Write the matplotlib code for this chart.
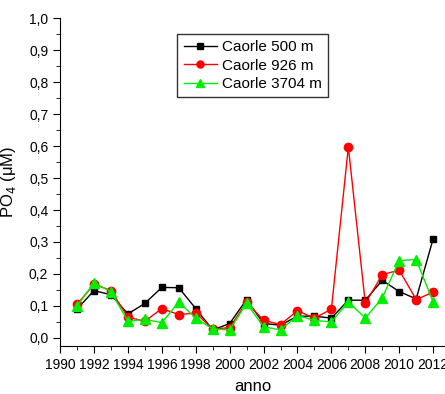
import numpy as np
import matplotlib
matplotlib.use('Agg')
import matplotlib.pyplot as plt
from matplotlib.ticker import MultipleLocator, FuncFormatter

plt.rcParams['font.family'] = ['Liberation Sans', 'DejaVu Sans']

anni = list(range(1991, 2013))
caorle_500 = [0.090, 0.148, 0.135, 0.075, 0.108, 0.158, 0.157, 0.092, 0.025, 0.045, 0.120,
              0.045, 0.040, 0.068, 0.068, 0.062, 0.118, 0.118, 0.180, 0.145, 0.122, 0.310]
caorle_926 = [0.105, 0.168, 0.148, 0.065, 0.052, 0.092, 0.073, 0.078, 0.028, 0.032, 0.112,
              0.055, 0.042, 0.085, 0.062, 0.090, 0.597, 0.108, 0.198, 0.212, 0.120, 0.143]
caorle_3704 = [0.100, 0.172, 0.145, 0.052, 0.058, 0.048, 0.112, 0.062, 0.028, 0.025, 0.108,
               0.035, 0.025, 0.070, 0.055, 0.050, 0.113, 0.062, 0.125, 0.242, 0.245, 0.113]

fig = plt.figure(figsize=(4.45, 3.94), dpi=100)
ax = fig.add_axes([0.135, 0.122, 0.865, 0.832])

ax.plot(anni, caorle_500, color='black', marker='s', ms=5, lw=1, label='Caorle 500 m')
ax.plot(anni, caorle_926, color='red', marker='o', ms=6, lw=1, label='Caorle 926 m')
ax.plot(anni, caorle_3704, color='#00ee00', marker='^', ms=7, lw=1, label='Caorle 3704 m')

ax.set_xlim(1990, 2012.7)
ax.set_ylim(-0.025, 1.0)
ax.xaxis.set_major_locator(MultipleLocator(2))
ax.xaxis.set_minor_locator(MultipleLocator(1))
ax.yaxis.set_major_locator(MultipleLocator(0.1))
ax.yaxis.set_minor_locator(MultipleLocator(0.05))
ax.yaxis.set_major_formatter(FuncFormatter(lambda v, p: ('%.1f' % v).replace('.', ',')))
ax.tick_params(which='major', direction='out', length=5, labelsize=10)
ax.tick_params(which='minor', direction='out', length=3)
for s in ['top', 'right']:
	ax.spines[s].set_visible(False)

ax.set_xlabel('anno', fontsize=12, labelpad=5)
ax.set_ylabel('PO$_4$ ($\\mathregular{\\mu}$M)', fontsize=12, labelpad=8)

leg = ax.legend(loc='upper left', bbox_to_anchor=(0.285, 0.975), fontsize=11, frameon=True,
                fancybox=False, edgecolor='black', handlelength=2.2, borderpad=0.4,
                labelspacing=0.3, handletextpad=0.3, markerscale=0.85)
leg.get_frame().set_linewidth(1)

fig.savefig('out.png', dpi=100)
